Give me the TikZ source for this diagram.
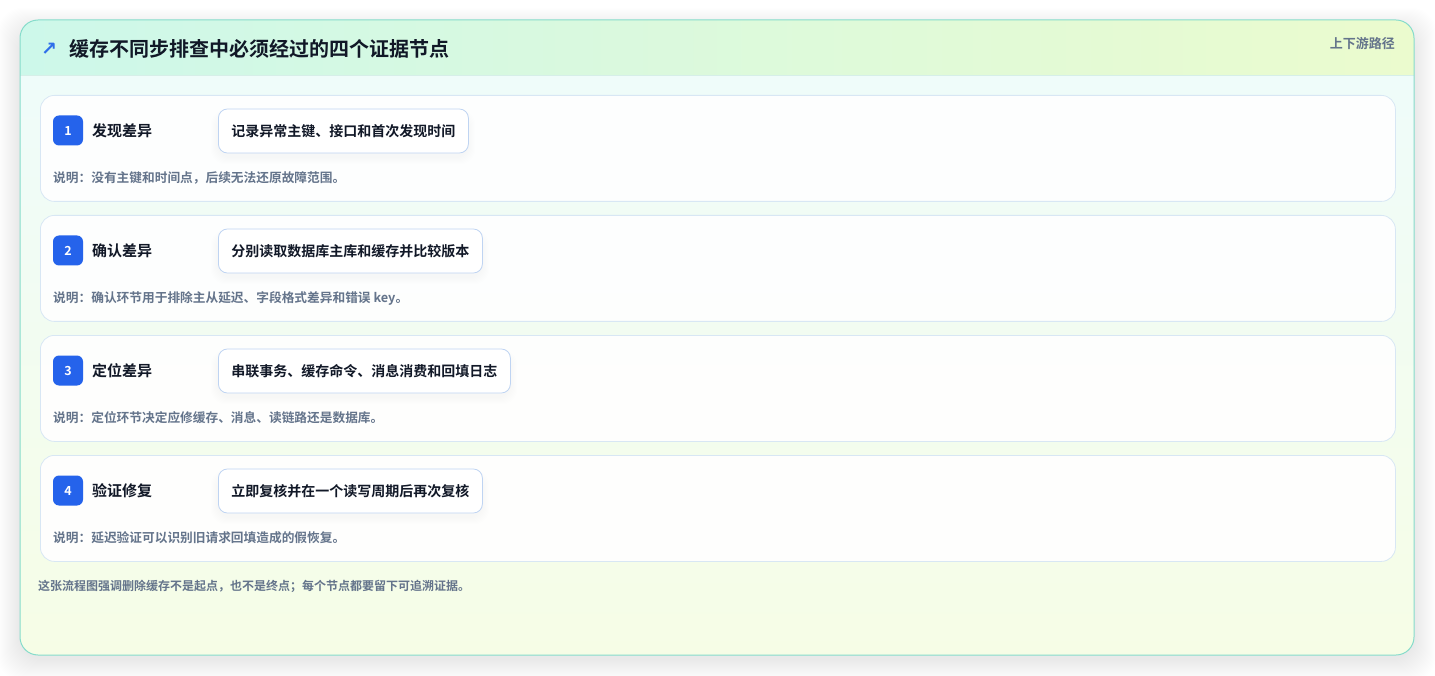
\documentclass[tikz,border=0pt]{standalone}
\usepackage{fontspec}
\setmainfont{Noto Sans CJK SC}[BoldFont={Noto Sans CJK SC Bold}]
\newfontfamily\symfont{DejaVu Sans}
\definecolor{outerborder}{HTML}{86DCCB}
\definecolor{hdrL}{HTML}{CDF8EA}
\definecolor{hdrR}{HTML}{EBFBCE}
\definecolor{hdrline}{HTML}{D6EFE8}
\definecolor{bodyT}{HTML}{EFFCFA}
\definecolor{bodyB}{HTML}{F6FDE6}
\definecolor{cardborder}{HTML}{D8E7F4}
\definecolor{badgeblue}{HTML}{2563EB}
\definecolor{pillborder}{HTML}{BFD4F2}
\definecolor{darktext}{HTML}{111827}
\definecolor{graytext}{HTML}{64748B}
\definecolor{iconblue}{HTML}{2F6FEA}
\tikzset{
  card/.style={draw=cardborder, line width=0.8pt, fill=white, fill opacity=0.92, text opacity=1,
    rounded corners=14pt, minimum width=1355pt, minimum height=106pt, anchor=north west, inner sep=0pt},
  badge/.style={fill=badgeblue, rounded corners=6pt, minimum width=30pt, minimum height=30pt,
    inner sep=0pt, text=white, font=\bfseries\fontsize{12.5}{14}\selectfont},
  steplabel/.style={anchor=west, inner sep=0pt, text=darktext, font=\bfseries\fontsize{15}{17}\selectfont},
  pill/.style={draw=pillborder, line width=0.8pt, fill=white, rounded corners=9pt, anchor=west,
    minimum height=44pt, inner xsep=13pt, inner ysep=0pt, text=darktext, font=\bfseries\fontsize{14}{16}\selectfont},
  notetext/.style={anchor=west, inner sep=0pt, text=graytext, font=\bfseries\fontsize{12.7}{14}\selectfont},
}
\begin{document}
\begin{tikzpicture}[x=1pt,y=-1pt]
\useasboundingbox (0,0) rectangle (1435,676);
\fill[white] (0,0) rectangle (1435,676);
% outer shadow
\foreach \i in {1,...,22} {
  \fill[black, opacity=0.0045, rounded corners=24pt] (20-\i,20-\i+10) rectangle (1414+\i,655+\i+4);
}
% outer card background
\begin{scope}
  \clip[rounded corners=18pt] (20,20) rectangle (1414,655);
  \shade[top color=bodyT, bottom color=bodyB] (20,75) rectangle (1414,655);
  \shade[left color=hdrL, right color=hdrR] (20,20) rectangle (1414,75);
  \draw[hdrline, line width=0.8pt] (20,75.5) -- (1414,75.5);
\end{scope}
\draw[outerborder, line width=1pt, rounded corners=18pt] (20,20) rectangle (1414,655);

% header
\node[anchor=west, inner sep=0pt, text=iconblue, font=\symfont\bfseries\fontsize{19}{21}\selectfont] (icon) at (41,49) {↗};
\node[anchor=west, inner sep=0pt, text=darktext, font=\bfseries\fontsize{20}{22}\selectfont] (title) at (69,49) {缓存不同步排查中必须经过的四个证据节点};
\node[anchor=east, inner sep=0pt, text=graytext, font=\bfseries\fontsize{13}{15}\selectfont] (tag) at (1395,44) {上下游路径};

% step cards
\node[card] (card1) at (40,95) {};
\node[card] (card2) at (40,215) {};
\node[card] (card3) at (40,335) {};
\node[card] (card4) at (40,455) {};

% pill shadows (soft)
\foreach \yy/\xr in {131/468, 251/482, 371/510, 491/482} {
  \foreach \k in {1,...,7} {
    \fill[black, opacity=0.005, rounded corners=14pt] (218-\k,\yy-20-\k+6) rectangle (\xr+\k,\yy+22+\k+4);
  }
}

% row 1
\node[badge] (b1) at (68,130.5) {1};
\node[steplabel] (l1) at (92,131) {发现差异};
\node[pill] (p1) at (218,131) {记录异常主键、接口和首次发现时间};
\node[notetext] (n1) at (53,178) {说明：没有主键和时间点，后续无法还原故障范围。};

% row 2
\node[badge] (b2) at (68,250.5) {2};
\node[steplabel] (l2) at (92,251) {确认差异};
\node[pill] (p2) at (218,251) {分别读取数据库主库和缓存并比较版本};
\node[notetext] (n2) at (53,298) {说明：确认环节用于排除主从延迟、字段格式差异和错误 key。};

% row 3
\node[badge] (b3) at (68,370.5) {3};
\node[steplabel] (l3) at (92,371) {定位差异};
\node[pill] (p3) at (218,371) {串联事务、缓存命令、消息消费和回填日志};
\node[notetext] (n3) at (53,418) {说明：定位环节决定应修缓存、消息、读链路还是数据库。};

% row 4
\node[badge] (b4) at (68,490.5) {4};
\node[steplabel] (l4) at (92,491) {验证修复};
\node[pill] (p4) at (218,491) {立即复核并在一个读写周期后再次复核};
\node[notetext] (n4) at (53,538) {说明：延迟验证可以识别旧请求回填造成的假恢复。};

% footer
\node[anchor=west, inner sep=0pt, text=graytext, font=\bfseries\fontsize{12}{14}\selectfont] (foot) at (38,586) {这张流程图强调删除缓存不是起点，也不是终点；每个节点都要留下可追溯证据。};
\end{tikzpicture}
\end{document}
